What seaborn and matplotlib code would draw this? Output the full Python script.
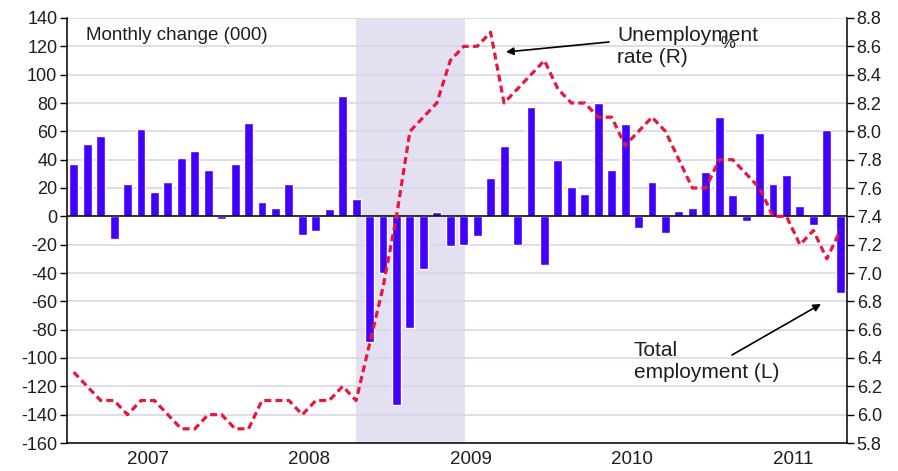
import numpy as np
import pandas as pd
import matplotlib
matplotlib.use("Agg")
import matplotlib.pyplot as plt
import seaborn as sns

# ---------------- data ----------------
months = [f"{y}-{m:02d}" for y in range(2007, 2012) for m in range(1, 13)][:58]
years = ["2007", "2008", "2009", "2010", "2011"]

employment_change = [37, 51, 57, -16, 23, 62, 17, 24, 41, 46, 33, -2,
                     37, 66, 10, 6, 23, -13, -10, 5, 85, 12, -89, -40,
                     -133, -79, -37, 3, -21, -20, -14, 27, 50, -20, 77, -34,
                     40, 21, 16, 80, 33, 65, -8, 24, -12, 4, 6, 31,
                     70, 15, -3, 59, 23, 29, 7, -6, 61, -54]

unemployment_rate = [6.3, 6.2, 6.1, 6.1, 6.0, 6.1, 6.1, 6.0, 5.9, 5.9, 6.0, 6.0,
                     5.9, 5.9, 6.1, 6.1, 6.1, 6.0, 6.1, 6.1, 6.2, 6.1, 6.5, 6.9,
                     7.4, 8.0, 8.1, 8.2, 8.5, 8.6, 8.6, 8.7, 8.2, 8.3, 8.4, 8.5,
                     8.3, 8.2, 8.2, 8.1, 8.1, 7.9, 8.0, 8.1, 8.0, 7.8, 7.6, 7.6,
                     7.8, 7.8, 7.7, 7.6, 7.4, 7.4, 7.2, 7.3, 7.1, 7.3]

recession_start = "2008-10"
recession_end = "2009-06"

left_ticks = list(range(-160, 141, 20))
right_ticks = [5.8, 6.0, 6.2, 6.4, 6.6, 6.8, 7.0, 7.2, 7.4, 7.6, 7.8, 8.0, 8.2, 8.4, 8.6, 8.8]

df = pd.DataFrame({"month": months, "change": employment_change,
                   "pos": np.arange(len(months)), "rate": unemployment_rate})

# ---------------- style ----------------
sns.set_style("white")
plt.rcParams["font.family"] = ["Liberation Sans", "DejaVu Sans"]
TXT = "#1e1e1e"
BAR = "#4200FF"
LINE = "#E8173C"
GRID = "#D8D7EA"
SHADE = "#E3E1F1"

fig = plt.figure(figsize=(8.98, 4.71), dpi=100)
ax = fig.add_axes([67 / 898, 1 - 443 / 471, 780 / 898, 425 / 471])

# recession shading
ax.axvspan(months.index(recession_start), months.index(recession_end) + 0.1,
           color=SHADE, lw=0, zorder=0.2)

# bars
sns.barplot(data=df, x="month", y="change", order=months, color=BAR,
            saturation=1, width=0.66, ax=ax, zorder=2)
ax.axhline(0, color="black", lw=1.1, zorder=3)

ax.set_ylim(-160, 140)
ax.set_yticks(left_ticks)
ax.set_yticklabels([str(t) for t in left_ticks])
ax.yaxis.grid(True, color=GRID, lw=1.2)
ax.xaxis.grid(False)
ax.set_axisbelow(True)
ax.set_xlim(-0.5, len(months) - 0.5)
ax.set_xlabel("")
ax.set_ylabel("")

# x ticks: month boundaries (minor), year boundaries (major)
year_starts = [i for i, m in enumerate(months) if m.endswith("-01")]
ax.set_xticks([i - 0.5 for i in year_starts])
ax.set_xticklabels([])
ax.set_xticks([i - 0.5 for i in range(len(months) + 1)], minor=True)
ax.tick_params(axis="x", which="major", direction="out", length=7, width=1, color="black")
ax.tick_params(axis="x", which="minor", direction="out", length=4, width=1, color="black")
ax.tick_params(axis="y", direction="out", length=5, width=1, color="black",
               labelsize=13, labelcolor=TXT, pad=2)

for yr, start in zip(years, year_starts):
    ax.annotate(yr, xy=(start + 5.5, 0), xycoords=("data", "axes fraction"),
                xytext=(0, -6), textcoords="offset points", ha="center", va="top",
                fontsize=13.5, color=TXT)

for side in ["top", "right"]:
    ax.spines[side].set_visible(False)
for side in ["left", "bottom"]:
    ax.spines[side].set_color("black")
    ax.spines[side].set_linewidth(1.1)

# right axis: unemployment rate
ax2 = ax.twinx()
sns.lineplot(data=df, x="pos", y="rate", ax=ax2, color=LINE, lw=2.3,
             linestyle=(0, (2.2, 1.3)), zorder=4)
ax2.set_ylim(5.8, 8.8)
ax2.set_yticks(right_ticks)
ax2.set_yticklabels([f"{t:.1f}" for t in right_ticks])
ax2.set_xlim(-0.5, len(months) - 0.5)
ax2.set_xlabel("")
ax2.set_ylabel("")
ax2.grid(False)
ax2.tick_params(axis="y", direction="out", length=5, width=1, color="black",
                labelsize=13, labelcolor=TXT, pad=2)
for side in ["top", "left", "bottom"]:
    ax2.spines[side].set_visible(False)
ax2.spines["right"].set_color("black")
ax2.spines["right"].set_linewidth(1.1)

# texts and annotations
def fx(px):
    return (px - 67) / 780

def fy(py):
    return (443 - py) / 425

ax2.text(fx(86), fy(40.5), "Monthly change (000)", transform=ax2.transAxes,
         fontsize=13.5, color=TXT, ha="left", va="baseline")
ax2.text(fx(728), fy(43), "%", transform=ax2.transAxes,
         fontsize=12, color=TXT, ha="center", va="center")
ax2.text(fx(617), fy(26), "Unemployment\nrate (R)", transform=ax2.transAxes,
         fontsize=15, color=TXT, ha="left", va="top", linespacing=1.2)
ax2.annotate("", xy=(fx(506), fy(52)), xycoords="axes fraction",
             xytext=(fx(609), fy(42)), textcoords="axes fraction",
             arrowprops=dict(arrowstyle="-|>", color="black", lw=1.2,
                             mutation_scale=11, shrinkA=0, shrinkB=0))
ax2.text(fx(634), fy(341), "Total\nemployment (L)", transform=ax2.transAxes,
         fontsize=15, color=TXT, ha="left", va="top", linespacing=1.2)
ax2.annotate("", xy=(fx(821), fy(304)), xycoords="axes fraction",
             xytext=(fx(732), fy(355)), textcoords="axes fraction",
             arrowprops=dict(arrowstyle="-|>", color="black", lw=1.2,
                             mutation_scale=11, shrinkA=0, shrinkB=0))

fig.savefig("out.png", dpi=100)
